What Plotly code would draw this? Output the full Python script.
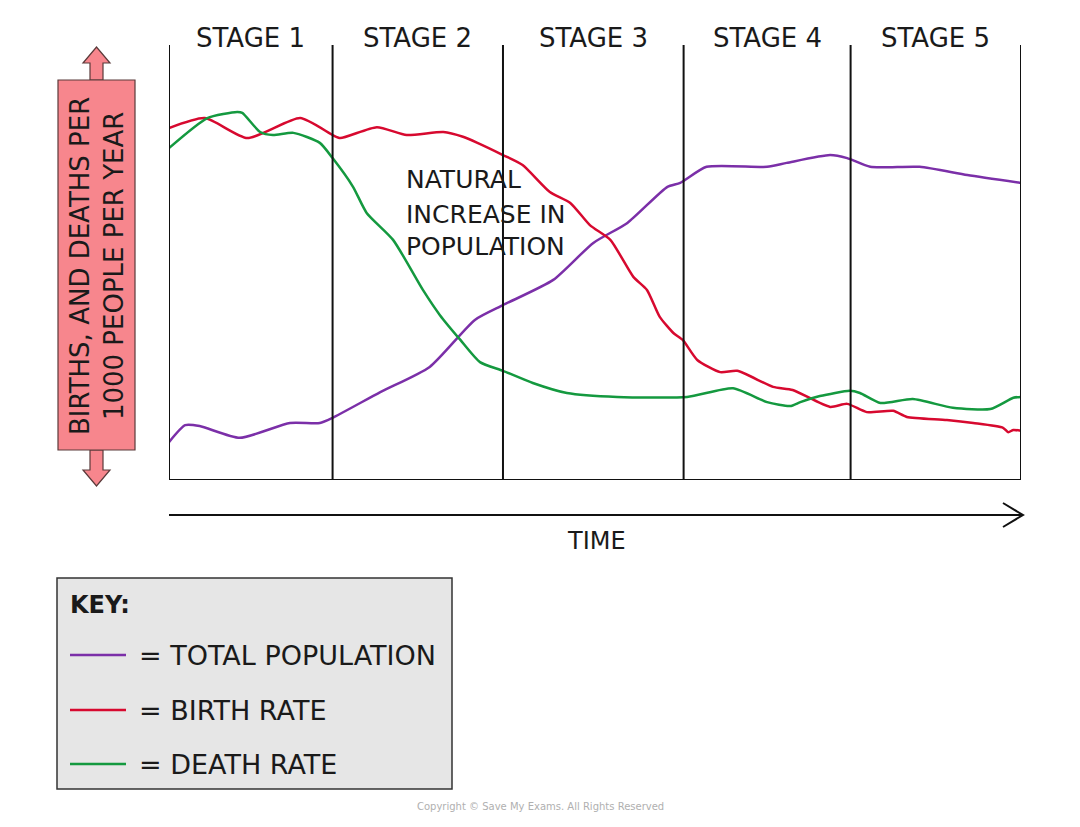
import plotly.graph_objects as go

# ---------------- data (time 0-100, rate 0-100) ----------------
pop_x = [0, 1.9, 3.6, 8.3, 14.2, 17.7, 19.2, 24.8, 30.6, 35.9, 39.2, 45.1, 49.8, 53.8,
         58.5, 60.0, 63.1, 70.2, 72.5, 77.6, 79.6, 82.3, 88.1, 93.7, 100]
pop_y = [8.7, 12.6, 12.4, 9.7, 13.1, 13.1, 14.3, 20.2, 26.0, 36.8, 40.2, 46.0, 54.5, 59.1,
         67.4, 68.3, 72.0, 72.0, 72.9, 74.7, 74.0, 72.0, 72.0, 70.1, 68.3]

birth_x = [0, 4.2, 9.2, 15.4, 19.2, 20.1, 24.4, 27.9, 32.2, 34.5, 36.2, 39.2, 41.5, 44.7,
           47.1, 49.4, 51.8, 54.5, 56.1, 57.6, 59.2, 60.3, 62.0, 64.7, 66.7, 70.9, 73.2,
           77.6, 79.6, 81.9, 85.0, 86.6, 91.3, 94.4, 97.9, 98.5, 99.1, 100]
birth_y = [80.9, 83.2, 78.6, 83.2, 79.3, 78.6, 81.1, 79.3, 80.0, 78.9, 77.5, 74.7, 72.4, 66.2,
           63.7, 58.6, 55.2, 46.7, 43.7, 37.5, 33.8, 32.2, 27.6, 24.8, 25.1, 21.4, 20.7,
           16.8, 17.5, 15.6, 15.9, 14.5, 13.8, 13.1, 12.0, 11.0, 11.5, 11.3]

death_x = [0, 4.5, 8.0, 8.6, 10.7, 12.2, 14.6, 17.7, 19.2, 21.6, 23.2, 26.3, 29.8, 31.8,
           34.2, 36.5, 39.2, 42.7, 46.7, 52.6, 60.8, 66.2, 70.2, 72.9, 74.1, 76.4, 79.9,
           81.1, 83.5, 87.3, 92.0, 96.4, 99.1, 100]
death_y = [76.3, 83.2, 84.6, 84.4, 80.0, 79.3, 79.8, 77.5, 74.0, 67.4, 61.4, 55.2, 43.7, 37.9,
           32.2, 27.1, 25.1, 22.3, 20.0, 19.1, 19.1, 21.1, 17.9, 17.0, 17.9, 19.3, 20.5,
           20.0, 17.7, 18.6, 16.6, 16.3, 18.9, 19.1]

stage_edges = [0, 19.2, 39.2, 60.4, 80.0, 100]
stage_labels = ["STAGE 1", "STAGE 2", "STAGE 3", "STAGE 4", "STAGE 5"]

series_names = ["= TOTAL POPULATION", "= BIRTH RATE", "= DEATH RATE"]
series_colors = ["#7B2FA8", "#D7092F", "#14993F"]

# ---------------- layout helpers (page pixel -> paper) ----------------
OFF = 8                      # default body margin of the html page
W, H = 1080 - 2 * OFF, 827 - 2 * OFF
L, R, T, B = 169, 1021, 45, 480   # plot area in page pixels


def px(x):
    return (x - L) / (R - L)


def py(y):
    return (B - y) / (B - T)


FONT = "DejaVu Sans, Open Sans, sans-serif"
TXT = "#1a1a1a"

fig = go.Figure()
for xs, ys, c in [(pop_x, pop_y, series_colors[0]),
                  (birth_x, birth_y, series_colors[1]),
                  (death_x, death_y, series_colors[2])]:
    fig.add_trace(go.Scatter(x=xs, y=ys, mode="lines",
                             line=dict(color=c, width=2.5, shape="spline", smoothing=0.6),
                             hoverinfo="skip", showlegend=False))

shapes = []
for e in stage_edges:
    shapes.append(dict(type="line", xref="x", yref="y", x0=e, x1=e, y0=0, y1=100,
                       line=dict(color="#111111", width=2)))
shapes.append(dict(type="line", xref="x", yref="y", x0=0, x1=100, y0=0, y1=0,
                   line=dict(color="#111111", width=2)))
# time arrow
shapes.append(dict(type="line", xref="paper", yref="paper", x0=px(169), x1=px(1022),
                   y0=py(515), y1=py(515), line=dict(color="#111111", width=2)))
shapes.append(dict(type="path", xref="paper", yref="paper",
                   path=f"M {px(1003)} {py(503)} L {px(1023)} {py(515)} L {px(1003)} {py(527)}",
                   line=dict(color="#111111", width=2)))

# pink double arrow + box
pink = "#F7868D"
edge = "#5a3a3a"
up = [(90, 80), (90, 63), (83, 63), (96.5, 47), (110, 63), (103, 63), (103, 80)]
down = [(90, 450), (90, 470), (83, 470), (96.5, 486), (110, 470), (103, 470), (103, 450)]
for poly in (up, down):
    p = "M " + " L ".join(f"{px(a)} {py(b)}" for a, b in poly) + " Z"
    shapes.append(dict(type="path", xref="paper", yref="paper", path=p,
                       fillcolor=pink, line=dict(color=edge, width=1.2), layer="above"))
shapes.append(dict(type="rect", xref="paper", yref="paper", x0=px(58), x1=px(135),
                   y0=py(450), y1=py(80), fillcolor=pink,
                   line=dict(color=edge, width=1.2), layer="above"))

# key box
shapes.append(dict(type="rect", xref="paper", yref="paper", x0=px(57), x1=px(452),
                   y0=py(789), y1=py(578), fillcolor="#E6E6E6",
                   line=dict(color="#333333", width=1.5), layer="above"))
key_rows = [655, 710, 764]
for yy, c in zip(key_rows, series_colors):
    shapes.append(dict(type="line", xref="paper", yref="paper", x0=px(70), x1=px(126),
                       y0=py(yy), y1=py(yy), line=dict(color=c, width=2.6), layer="above"))

annotations = []
for i, lab in enumerate(stage_labels):
    annotations.append(dict(x=(stage_edges[i] + stage_edges[i + 1]) / 2, xref="x",
                            y=py(38), yref="paper", text=lab, showarrow=False,
                            font=dict(family=FONT, size=26, color=TXT),
                            xanchor="center", yanchor="middle"))
for t, yy in zip(["NATURAL", "INCREASE IN", "POPULATION"], [180, 214, 247]):
    annotations.append(dict(x=px(404), xref="paper", y=py(yy), yref="paper", text=t,
                            showarrow=False, font=dict(family=FONT, size=25, color=TXT),
                            xanchor="left", yanchor="middle"))
annotations.append(dict(x=px(596), xref="paper", y=py(541), yref="paper", text="TIME",
                        showarrow=False, font=dict(family=FONT, size=24, color=TXT),
                        xanchor="center", yanchor="middle"))
annotations.append(dict(x=px(97), xref="paper", y=py(266), yref="paper",
                        text="BIRTHS, AND DEATHS PER<br>1000 PEOPLE PER YEAR",
                        textangle=-90, showarrow=False,
                        font=dict(family=FONT, size=26, color=TXT),
                        xanchor="center", yanchor="middle"))
annotations.append(dict(x=px(68), xref="paper", y=py(605), yref="paper", text="<b>KEY:</b>",
                        showarrow=False, font=dict(family=FONT, size=24, color=TXT),
                        xanchor="left", yanchor="middle"))
for yy, name in zip(key_rows, series_names):
    annotations.append(dict(x=px(137), xref="paper", y=py(yy), yref="paper", text=name,
                            showarrow=False, font=dict(family=FONT, size=27, color=TXT),
                            xanchor="left", yanchor="middle"))
annotations.append(dict(x=px(540), xref="paper", y=py(806), yref="paper",
                        text="Copyright © Save My Exams. All Rights Reserved",
                        showarrow=False, font=dict(family=FONT, size=10, color="#b0b0b0"),
                        xanchor="center", yanchor="middle"))

fig.update_layout(
    width=W, height=H, autosize=False,
    margin=dict(l=L - OFF, r=W - (R - OFF), t=T - OFF, b=H - (B - OFF), pad=0),
    paper_bgcolor="white", plot_bgcolor="white",
    xaxis=dict(range=[0, 100], visible=False, fixedrange=True),
    yaxis=dict(range=[0, 100], visible=False, fixedrange=True),
    shapes=shapes, annotations=annotations, showlegend=False,
)

fig.write_html("out.html", config={"displayModeBar": False})
